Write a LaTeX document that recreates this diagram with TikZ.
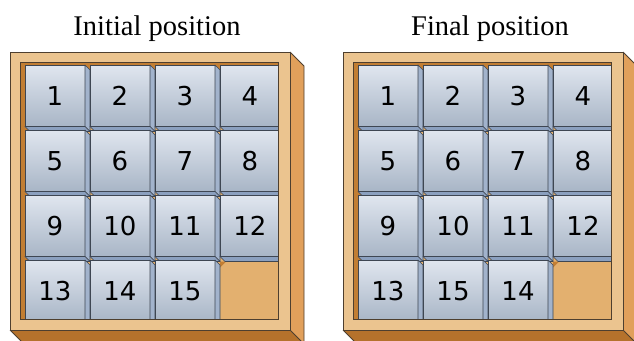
\documentclass[tikz,border=0pt]{standalone}
\usepackage{fontspec}
\setmainfont{Liberation Serif}
\newfontfamily\tilefont{DejaVu Sans}
\usetikzlibrary{positioning}
\definecolor{cFront}{HTML}{EBC48F}
\definecolor{cSide}{HTML}{E1A05B}
\definecolor{cBottom}{HTML}{B5722C}
\definecolor{cShadow}{HTML}{C27E33}
\definecolor{cFloor}{HTML}{E3B06F}
\definecolor{cEdge}{HTML}{4E3F2F}
\definecolor{tileTop}{HTML}{E0E6EF}
\definecolor{tileBot}{HTML}{A8B5C6}
\definecolor{tileRight}{HTML}{A2B3CC}
\definecolor{tileBase}{HTML}{8BA0BF}
\definecolor{tileEdge}{HTML}{3E4652}
\tikzset{
    title/.style={font=\fontsize{28.5}{34}\selectfont, anchor=base, inner sep=0pt},
    tileface/.style={draw=tileEdge, line width=0.8pt, top color=tileTop,
        bottom color=tileBot, minimum width=60pt, minimum height=61.5pt,
        inner sep=0pt, outer sep=0pt, font=\tilefont\fontsize{26}{30}\selectfont},
    tileright/.style={fill=tileRight, draw=tileEdge, line width=0.6pt, line join=round},
    tilebase/.style={fill=tileBase, draw=tileEdge, line width=0.6pt, line join=round},
    boxedge/.style={draw=cEdge, line width=0.8pt},
}
% one box with its tiles: x shift, name prefix, labels row by row
\newcommand{\drawpuzzle}[3]{%
    \begin{scope}[xshift=#1]
        % side and bottom faces of the box
        \fill[cSide] (290,52) -- (304,66) -- (304,344) -- (290,330) -- cycle;
        \fill[cBottom] (10,330) -- (290,330) -- (304,344) -- (24,344) -- cycle;
        \draw[boxedge] (290,52) -- (304,66) -- (304,344);
        \draw[boxedge] (10,330) -- (24,344);
        \draw[boxedge] (290,330) -- (304,344);
        % floor and shadow of the rim
        \fill[cFloor] (20,62) rectangle (278,319);
        \fill[cShadow] (20,62) -- (278,62) -- (278,70) -- (30,70) -- (30,319) -- (20,319) -- cycle;
        \fill[cShadow] (220,261.5) -- (226,261.5) -- (220,267.5) -- cycle;
        % tiles
        \foreach \lbl [count=\i from 0] in {#3} {
            \pgfmathtruncatemacro{\col}{mod(\i,4)}
            \pgfmathtruncatemacro{\row}{div(\i,4)}
            \node[tileface] (#2-\i) at (55+65*\col, 95.75+65*\row) {\lbl};
            \draw[tileright] (#2-\i.north east) -- ++(5,5) -- ++(0,61.5) -- (#2-\i.south east) -- cycle;
            \draw[tilebase] (#2-\i.south west) -- (#2-\i.south east) -- ++(5,5) -- ++(-60,0) -- cycle;
        }
        % front of the box
        \fill[cFront, even odd rule] (10,52) rectangle (290,330) (20,62) rectangle (278,319);
        \draw[boxedge] (10,52) rectangle (290,330);
        \draw[boxedge] (20,62) rectangle (278,319);
    \end{scope}}

\begin{document}
\begin{tikzpicture}[x=1pt, y=-1pt]
    \useasboundingbox (0,0) rectangle (634,340);
    \clip (0,0) rectangle (634,340);

    % Titles
    \node[title] (tinit) at (157,35) {Initial position};
    \node[title] (tfinal) at (490,35) {Final position};

    % Boxes
    \drawpuzzle{0pt}{ini}{1,2,3,4,5,6,7,8,9,10,11,12,13,14,15}
    \drawpuzzle{333pt}{fin}{1,2,3,4,5,6,7,8,9,10,11,12,13,15,14}
\end{tikzpicture}
\end{document}
